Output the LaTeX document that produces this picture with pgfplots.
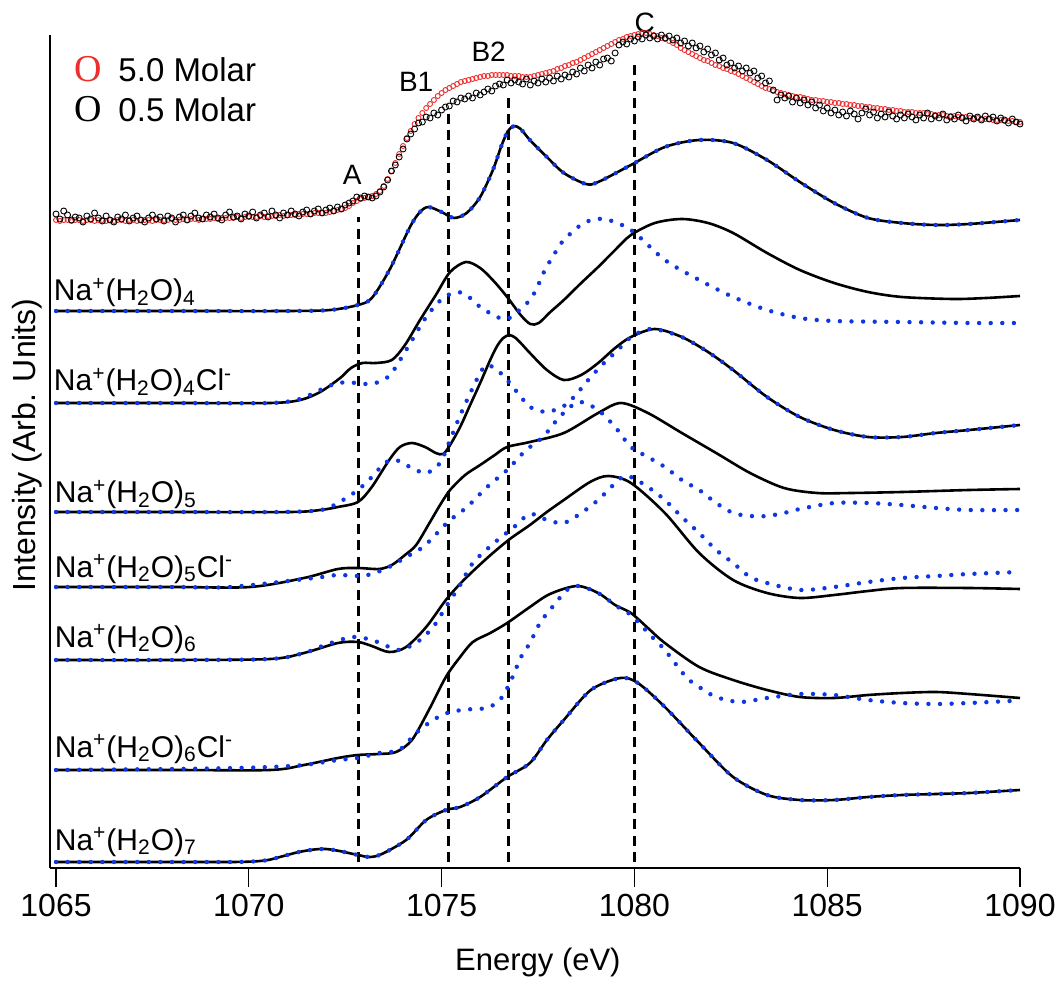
\documentclass[border=0pt]{standalone}
\usepackage{pgfplots}
\pgfplotsset{compat=1.18}
\usepackage{pgfplotstable}
\usepackage{fontspec}
\setmainfont{Liberation Sans}
\newfontfamily\serifO{Liberation Serif}
\definecolor{dotblue}{RGB}{15,55,225}
\definecolor{expred}{RGB}{238,45,45}

\pgfplotsset{
  blk/.style={black, line width=1.3pt, smooth, tension=0.5, no marks},
  blu/.style={dotblue, line width=2.2pt, line cap=round, dash pattern=on 0pt off 5.8pt, smooth, tension=0.5, no marks},
  vdash/.style={black, line width=1.6pt, dash pattern=on 5pt off 3.2pt, no marks},
}

\pgfplotstableread{
E r b
1065.0 648 654
1065.1 647 649
1065.2 648 657
1065.3 648 653
1065.4 647 648
1065.5 648 651
1065.6 648 650
1065.7 647 646
1065.8 648 652
1065.9 648 649
1066.0 647 655
1066.1 648 650
1066.2 648 647
1066.3 647 652
1066.4 648 648
1066.5 647 646
1066.6 648 651
1066.7 648 649
1066.8 647 653
1066.9 648 647
1067.0 648 650
1067.1 647 652
1067.2 648 648
1067.3 648 646
1067.4 648 650
1067.5 647 653
1067.6 648 649
1067.7 648 651
1067.8 648 647
1067.9 648 652
1068.0 649 650
1068.1 648 646
1068.2 648 651
1068.3 649 653
1068.4 648 648
1068.5 649 652
1068.6 649 655
1068.7 648 650
1068.8 649 649
1068.9 649 653
1069.0 649 651
1069.1 650 654
1069.2 649 650
1069.3 650 648
1069.4 650 653
1069.5 650 656
1069.6 650 651
1069.7 651 652
1069.8 650 649
1069.9 651 654
1070.0 651 652
1070.1 651 656
1070.2 651 650
1070.3 652 653
1070.4 651 655
1070.5 652 651
1070.6 652 657
1070.7 652 653
1070.8 653 650
1070.9 652 655
1071.0 653 653
1071.1 653 657
1071.2 653 654
1071.3 654 652
1071.4 654 656
1071.5 654 658
1071.6 654 654
1071.7 655 657
1071.8 655 659
1071.9 655 655
1072.0 655 658
1072.1 656 660
1072.2 657 657
1072.3 658 661
1072.4 659 659
1072.5 660 663
1072.6 662 665
1072.7 665 667
1072.8 667 671
1072.9 669 670
1073.0 670 672
1073.1 671 671
1073.2 672 670
1073.3 674 672
1073.4 677 676
1073.5 682 681
1073.6 689 688
1073.7 697 697
1073.8 705 703
1073.9 714 711
1074.0 722 719
1074.1 730 729
1074.2 737 734
1074.3 744 739
1074.4 750 745
1074.5 755 746
1074.6 760 751
1074.7 764 750
1074.8 768 755
1074.9 772 753
1075.0 775 758
1075.1 778 761
1075.2 780 762
1075.3 782 767
1075.4 784 766
1075.5 786 770
1075.6 787 769
1075.7 788 772
1075.8 789 770
1075.9 790 775
1076.0 791 773
1076.1 792 776
1076.2 792 779
1076.3 793 777
1076.4 793 782
1076.5 793 784
1076.6 793 783
1076.7 793 788
1076.8 792 785
1076.9 792 788
1077.0 792 786
1077.1 791 784
1077.2 791 789
1077.3 791 783
1077.4 792 787
1077.5 793 785
1077.6 794 789
1077.7 795 786
1077.8 796 790
1077.9 797 787
1078.0 799 792
1078.1 800 789
1078.2 802 793
1078.3 803 791
1078.4 805 796
1078.5 806 794
1078.6 808 800
1078.7 810 797
1078.8 812 803
1078.9 814 800
1079.0 816 806
1079.1 818 803
1079.2 820 809
1079.3 822 810
1079.4 824 807
1079.5 826 815
1079.6 828 823
1079.7 829 826
1079.8 831 824
1079.9 832 829
1080.0 833 827
1080.1 834 831
1080.2 835 829
1080.3 835 833
1080.4 834 830
1080.5 833 832
1080.6 832 829
1080.7 830 833
1080.8 829 830
1080.9 827 832
1081.0 825 828
1081.1 823 830
1081.2 820 825
1081.3 818 827
1081.4 816 822
1081.5 814 825
1081.6 812 820
1081.7 810 822
1081.8 808 816
1081.9 807 819
1082.0 805 813
1082.1 803 815
1082.2 802 808
1082.3 800 810
1082.4 799 803
1082.5 797 805
1082.6 796 800
1082.7 794 802
1082.8 792 797
1082.9 790 800
1083.0 788 795
1083.1 786 797
1083.2 784 790
1083.3 782 792
1083.4 780 785
1083.5 779 787
1083.6 777 778
1083.7 776 768
1083.8 775 773
1083.9 774 770
1084.0 773 772
1084.1 772 766
1084.2 771 770
1084.3 771 765
1084.4 770 768
1084.5 769 763
1084.6 768 766
1084.7 768 760
1084.8 767 763
1084.9 767 757
1085.0 766 760
1085.1 766 755
1085.2 765 758
1085.3 765 753
1085.4 764 756
1085.5 764 752
1085.6 763 757
1085.7 763 754
1085.8 762 749
1085.9 762 755
1086.0 761 759
1086.1 761 753
1086.2 760 756
1086.3 760 750
1086.4 759 754
1086.5 759 751
1086.6 758 756
1086.7 758 752
1086.8 757 749
1086.9 757 753
1087.0 756 750
1087.1 756 754
1087.2 756 751
1087.3 755 748
1087.4 755 753
1087.5 755 750
1087.6 754 755
1087.7 754 749
1087.8 753 752
1087.9 753 750
1088.0 753 754
1088.1 752 748
1088.2 752 751
1088.3 752 749
1088.4 751 753
1088.5 751 750
1088.6 751 747
1088.7 750 752
1088.8 750 749
1088.9 750 751
1089.0 749 748
1089.1 749 752
1089.2 749 749
1089.3 748 751
1089.4 748 747
1089.5 748 750
1089.6 747 748
1089.7 747 745
1089.8 747 749
1089.9 746 746
1090.0 746 744
}\expdata

\pgfplotstableread{
E y
1065.00 557
1068.00 557
1071.00 557
1072.11 558
1072.83 563
1073.19 570
1073.66 599
1074.18 641
1074.44 656
1074.66 661
1075.00 656
1075.32 650
1075.65 655
1076.00 671
1076.33 698
1076.55 722
1076.72 737
1076.88 742
1077.05 739
1077.29 728
1077.73 711
1078.17 695
1078.74 684
1079.06 686
1079.91 703
1080.79 721
1081.68 728
1082.56 725
1083.44 708
1084.29 686
1085.18 665
1086.06 650
1086.94 645
1087.82 643
1088.68 644
1090.00 648
}\naFour

\pgfplotstableread{
E y
1065.00 6
1067.50 6
1069.50 6
1070.10 6.5
1070.50 8
1070.90 12
1071.30 16
1071.70 18.5
1072.00 19
1072.35 17
1072.83 13
1073.14 11
1073.45 14
1074.08 28
1074.60 48
1075.11 58
1075.48 61
1076.00 71
1076.70 91
1077.29 105
1077.73 128
1078.17 148
1078.87 178
1079.63 190
1080.09 185
1080.79 161
1081.68 125
1082.56 91
1083.44 73
1084.29 68
1085.18 68
1086.06 71
1086.94 73
1087.82 74
1088.68 75
1090.00 78
}\naSeven

\begin{document}
\begin{tikzpicture}
\begin{axis}[
  at={(0,0)}, anchor=south west,
  scale only axis, width=485pt, height=416.5pt,
  xmin=1064.844, xmax=1090, ymin=0, ymax=833,
  axis x line=bottom, axis y line=left,
  axis line style={-, line width=0.6pt},
  xtick={1065,1070,1075,1080,1085,1090},
  xticklabels={1065,1070,1075,1080,1085,1090},
  ytick=\empty,
  tick align=outside,
  major tick length=9.5pt,
  tick style={line width=0.6pt, black},
  xticklabel style={font=\fontsize{16}{19}\selectfont, anchor=north},
  xlabel={Energy (eV)},
  ylabel={Intensity (Arb. Units)},
  xlabel style={font=\fontsize{15.5}{18}\selectfont, at={(axis description cs:0.503,-0.114)}, anchor=center},
  ylabel style={font=\fontsize{16}{19}\selectfont, at={(axis description cs:-0.0237,0.508)}, anchor=center},
  clip=false,
]
% dashed guide lines
\addplot[vdash] coordinates {(1072.84,6) (1072.84,651)};
\addplot[vdash] coordinates {(1075.18,6) (1075.18,755)};
\addplot[vdash] coordinates {(1076.74,6) (1076.74,771)};
\addplot[vdash] coordinates {(1080.00,6) (1080.00,808)};

% experimental
\addplot[only marks, mark=o, mark size=1.25pt, expred, mark options={line width=0.45pt}] table[x=E,y=r] {\expdata};
\addplot[only marks, mark=o, mark size=1.5pt, black, mark options={line width=0.45pt}] table[x=E,y=b] {\expdata};

% Na+(H2O)4
\addplot[blk] table {\naFour};
\addplot[blu] table {\naFour};

% Na+(H2O)4Cl-
\addplot[blk] coordinates {
(1065.00,465) (1068.00,465) (1070.55,465) (1071.33,468) (1071.85,476) (1072.37,490)
(1072.65,500) (1072.95,505) (1073.30,505) (1073.71,508) (1074.05,523) (1074.44,548)
(1074.85,573) (1075.22,596) (1075.63,606) (1076.00,600) (1076.35,587) (1076.70,571)
(1077.05,553) (1077.30,544) (1077.52,545) (1077.82,556) (1078.17,568) (1078.62,585)
(1079.06,601) (1079.50,618)
(1079.91,633) (1080.53,645) (1081.23,649) (1081.91,645) (1082.56,635) (1083.44,615)
(1084.29,598) (1085.18,585) (1086.06,576) (1086.94,571) (1088.26,569) (1089.12,570) (1090.00,572)};
\addplot[blu] coordinates {
(1065.00,465) (1068.00,465) (1070.55,465) (1071.33,469) (1071.79,477) (1072.31,485)
(1072.83,485) (1073.19,484) (1073.64,492) (1074.08,518) (1074.60,551) (1075.04,570)
(1075.43,576) (1075.74,570) (1076.00,561) (1076.44,551) (1076.70,549) (1076.96,556)
(1077.29,568) (1077.47,580) (1077.68,598) (1077.94,615) (1078.17,628) (1078.69,645)
(1079.21,649) (1079.91,638) (1080.79,608) (1081.68,588) (1082.56,571) (1083.44,558)
(1084.29,550) (1085.18,547) (1086.94,546) (1088.68,545) (1090.00,545)};

% Na+(H2O)5
\addplot[blk] coordinates {
(1065.00,356) (1068.00,356) (1071.07,356) (1071.85,358) (1072.31,361) (1072.83,366)
(1073.19,381) (1073.64,408) (1073.92,421) (1074.23,425) (1074.57,421) (1074.85,415)
(1075.04,414) (1075.22,423) (1075.48,441) (1075.74,463) (1076.00,485) (1076.26,508)
(1076.44,522) (1076.60,530) (1076.76,533) (1076.92,530) (1077.10,523) (1077.29,515) (1077.73,498)
(1078.17,488) (1078.62,493) (1079.06,505) (1079.50,520) (1079.91,531) (1080.53,539)
(1081.23,531) (1081.91,516) (1082.56,498) (1083.44,471) (1084.29,451) (1085.18,438)
(1086.06,431) (1086.94,431) (1087.82,435) (1088.68,438) (1090.00,443)};
\addplot[blu] coordinates {
(1065.00,356) (1068.00,356) (1070.81,356) (1071.87,358) (1072.31,365) (1072.83,378)
(1073.19,391) (1073.53,405) (1073.82,408) (1074.23,400) (1074.60,395) (1074.96,405)
(1075.22,428) (1075.43,448) (1075.66,468) (1076.00,495) (1076.18,503) (1076.44,498)
(1076.70,488) (1077.06,471) (1077.29,461) (1077.73,456) (1078.17,462) (1078.43,471)
(1078.87,491) (1079.21,505) (1079.57,518) (1079.91,531) (1080.22,537) (1080.53,539)
(1081.23,531) (1081.91,516) (1082.56,498) (1083.44,471) (1084.29,451) (1085.18,438)
(1086.06,431) (1086.94,431) (1087.82,435) (1088.68,438) (1090.00,443)};

% Na+(H2O)5Cl-
\addplot[blk] coordinates {
(1065.00,281) (1068.00,281) (1070.03,281) (1071.43,290) (1072.31,299) (1072.83,300)
(1073.38,299) (1073.71,303) (1074.05,313) (1074.34,323) (1074.70,346) (1074.96,363)
(1075.22,378) (1075.61,393) (1076.00,403) (1076.38,413) (1076.70,421) (1077.29,426)
(1078.17,435) (1079.06,455) (1079.65,465) (1080.35,455) (1081.23,435) (1082.12,415)
(1083.00,395) (1083.88,380) (1084.74,375) (1085.62,375) (1086.94,376) (1088.68,378) (1090.00,379)};
\addplot[blu] coordinates {
(1065.00,281) (1068.00,281) (1069.51,281) (1071.69,290) (1072.31,293) (1072.83,292)
(1073.19,294) (1073.64,301) (1074.08,311) (1074.52,321) (1074.96,338) (1075.22,348)
(1075.66,361) (1076.18,381) (1076.70,398) (1077.06,413) (1077.29,421) (1077.63,431)
(1077.99,448) (1078.33,461) (1078.62,466) (1079.06,458) (1079.50,441) (1079.91,421)
(1080.35,411) (1080.79,401) (1081.23,388) (1081.68,378) (1082.12,365) (1082.56,355)
(1083.00,352) (1083.44,352) (1083.88,355) (1084.29,359) (1085.18,365) (1086.06,365)
(1086.94,363) (1087.82,360) (1088.68,358) (1090.00,358)};

% Na+(H2O)6
\addplot[blk] coordinates {
(1065.00,208) (1068.00,208) (1070.55,209) (1071.43,215) (1072.31,225) (1072.83,226)
(1073.19,222) (1073.64,216) (1074.08,221) (1074.60,241) (1075.11,268) (1075.50,285)
(1075.90,300) (1076.30,314) (1076.77,329) (1077.29,343) (1077.73,356) (1078.17,368)
(1078.85,386) (1079.32,392)
(1079.91,385) (1080.79,355) (1081.68,315) (1082.56,288) (1083.44,275) (1084.29,270)
(1085.18,273) (1086.06,277) (1086.94,280) (1088.68,280) (1090.00,279)};
\addplot[blu] coordinates {
(1065.00,208) (1068.00,208) (1070.55,209) (1071.43,215) (1071.98,223) (1072.68,231)
(1073.19,228) (1073.64,221) (1073.90,218) (1074.34,225) (1074.78,241) (1075.11,261)
(1075.48,283) (1075.81,305) (1076.36,325) (1076.88,341) (1077.29,354) (1077.73,348)
(1078.17,345) (1078.62,355) (1079.06,368) (1079.65,390) (1079.91,391) (1080.35,381)
(1080.79,368) (1081.23,351) (1081.68,335) (1082.12,318) (1082.56,305) (1083.00,291)
(1083.44,285) (1084.29,278) (1085.18,281) (1086.06,286) (1086.94,290) (1087.82,292)
(1088.68,294) (1090.00,296)};

% Na+(H2O)6Cl-
\addplot[blk] coordinates {
(1065.00,98) (1068.00,98) (1070.55,98) (1071.43,103) (1072.31,110) (1072.83,113)
(1073.38,114) (1073.82,116) (1074.23,128) (1074.67,158) (1075.11,191) (1075.48,211)
(1075.81,226) (1076.26,235) (1076.70,245) (1077.29,261) (1077.81,274) (1078.51,282)
(1079.06,275) (1079.50,263) (1079.91,255) (1080.35,240) (1080.79,225) (1081.68,201)
(1082.56,188) (1083.44,178) (1084.29,171) (1085.18,170) (1086.06,173) (1086.94,175)
(1087.82,176) (1088.68,174) (1090.00,170)};
\addplot[blu] coordinates {
(1065.00,98) (1068.00,99) (1069.69,100) (1070.55,101) (1071.43,103) (1072.31,108)
(1072.83,110) (1073.38,115) (1073.90,118) (1074.34,135) (1074.78,148) (1075.22,156)
(1075.81,159) (1076.18,160) (1076.51,168) (1076.77,185) (1077.06,211) (1077.29,225)
(1077.55,245) (1077.81,258) (1078.25,278) (1078.56,282) (1079.06,275) (1079.57,261)
(1079.91,253) (1080.46,231) (1080.79,218) (1081.34,191) (1081.68,181) (1082.12,171)
(1082.74,166) (1083.44,170) (1084.29,174) (1085.18,173) (1086.06,168) (1086.94,165)
(1087.82,164) (1088.68,165) (1089.74,167)};

% Na+(H2O)7
\addplot[blk] table {\naSeven};
\addplot[blu] table {\naSeven};

% labels of features
\node[font=\fontsize{14}{16}\selectfont, anchor=base, inner sep=0pt] at (axis cs:1072.68,683) {A};
\node[font=\fontsize{14}{16}\selectfont, anchor=base, inner sep=0pt] at (axis cs:1074.34,776) {B1};
\node[font=\fontsize{14}{16}\selectfont, anchor=base, inner sep=0pt] at (axis cs:1076.22,806) {B2};
\node[font=\fontsize{14}{16}\selectfont, anchor=base, inner sep=0pt] at (axis cs:1080.27,835) {C};

% legend
\node[font=\serifO\fontsize{19}{21}\selectfont, text=expred, anchor=base, inner sep=0pt] at (axis cs:1065.845,786) {O};
\node[font=\fontsize{16.5}{19}\selectfont, anchor=base west, inner sep=0pt] at (axis cs:1066.61,786) {5.0 Molar};
\node[font=\serifO\fontsize{19}{21}\selectfont, text=black, anchor=base, inner sep=0pt] at (axis cs:1065.845,746) {O};
\node[font=\fontsize{16.5}{19}\selectfont, anchor=base west, inner sep=0pt] at (axis cs:1066.61,746) {0.5 Molar};

% curve labels
\begin{scope}[every node/.style={font=\fontsize{15}{18}\selectfont, anchor=base west, inner sep=0pt}]
\node at (axis cs:1064.935,567) {Na\textsuperscript{+}(H\textsubscript{2}O)\textsubscript{4}};
\node at (axis cs:1064.935,477) {Na\textsuperscript{+}(H\textsubscript{2}O)\textsubscript{4}Cl\textsuperscript{-}};
\node at (axis cs:1064.96,365) {Na\textsuperscript{+}(H\textsubscript{2}O)\textsubscript{5}};
\node at (axis cs:1064.96,291) {Na\textsuperscript{+}(H\textsubscript{2}O)\textsubscript{5}Cl\textsuperscript{-}};
\node at (axis cs:1064.96,221) {Na\textsuperscript{+}(H\textsubscript{2}O)\textsubscript{6}};
\node at (axis cs:1064.96,111) {Na\textsuperscript{+}(H\textsubscript{2}O)\textsubscript{6}Cl\textsuperscript{-}};
\node at (axis cs:1064.96,18) {Na\textsuperscript{+}(H\textsubscript{2}O)\textsubscript{7}};
\end{scope}
\end{axis}
\pgfresetboundingbox
\path[use as bounding box] (-25pt,-56.5pt) rectangle (505.5pt,434pt);
\end{tikzpicture}
\end{document}
